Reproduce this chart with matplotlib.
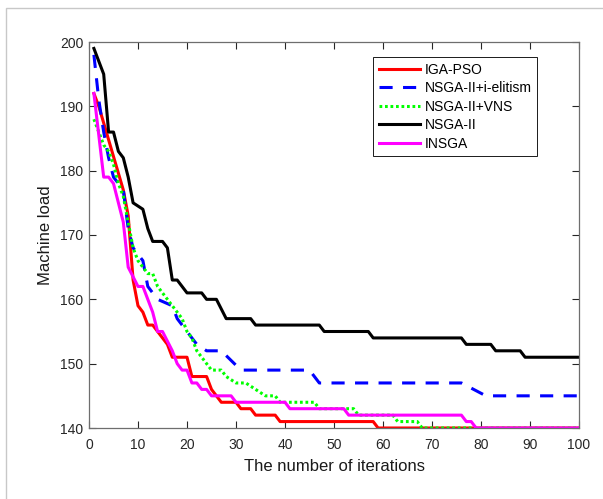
import matplotlib
matplotlib.use("Agg")
import matplotlib.pyplot as plt
from matplotlib.patches import Rectangle

plt.rcParams['font.family'] = ['Liberation Sans', 'DejaVu Sans']

# ---- data (iteration breakpoints and values, linear between) ----
iga_x = [1, 2, 7, 8, 9, 10, 11, 12, 13, 14, 16, 17, 20, 21, 24, 25, 27, 30, 31, 33, 34, 38, 39, 58, 59, 100]
iga_y = [192, 190, 177, 173, 163, 159, 158, 156, 156, 155, 153, 151, 151, 148, 148, 146, 144, 144, 143, 143, 142, 142, 141, 141, 140, 140]

eli_x = [1, 2, 3, 4, 5, 7, 8, 9, 10, 11, 12, 13, 14, 17, 18, 19, 20, 21, 22, 24, 27, 31, 45, 47, 76, 81, 100]
eli_y = [198, 191, 186, 182, 179, 177, 171, 168, 167, 166, 162, 161, 160, 159, 157, 156, 155, 154, 153, 152, 152, 149, 149, 147, 147, 145, 145]

vns_x = [1, 2, 3, 4, 5, 6, 7, 8, 9, 10, 11, 12, 13, 14, 15, 16, 17, 18, 19, 20, 21, 22, 23, 24, 25, 27, 28, 30, 32, 34, 36, 38, 39, 46, 47, 54, 55, 62, 63, 67, 68, 100]
vns_y = [188, 186, 184, 183, 181, 178, 176, 172, 168, 166, 165, 164, 164, 162, 161, 160, 159, 158, 157, 155, 154, 152, 151, 150, 149, 149, 148, 147, 147, 146, 145, 145, 144, 144, 143, 143, 142, 142, 141, 141, 140, 140]

nsga_x = [1, 3, 4, 5, 6, 7, 8, 9, 11, 12, 13, 15, 16, 17, 18, 20, 23, 24, 26, 28, 33, 34, 47, 48, 57, 58, 76, 77, 82, 83, 88, 89, 100]
nsga_y = [199, 195, 186, 186, 183, 182, 179, 175, 174, 171, 169, 169, 168, 163, 163, 161, 161, 160, 160, 157, 157, 156, 156, 155, 155, 154, 154, 153, 153, 152, 152, 151, 151]

insga_x = [1, 3, 4, 5, 6, 7, 8, 10, 11, 13, 14, 15, 17, 18, 19, 20, 21, 22, 23, 24, 25, 29, 30, 40, 41, 52, 53, 76, 77, 78, 79, 100]
insga_y = [192, 179, 179, 178, 175, 172, 165, 162, 162, 158, 155, 155, 152, 150, 149, 149, 147, 147, 146, 146, 145, 145, 144, 144, 143, 143, 142, 142, 141, 141, 140, 140]

labels = ['IGA-PSO', 'NSGA-II+i-elitism', 'NSGA-II+VNS', 'NSGA-II', 'INSGA']
x_ticks = list(range(0, 101, 10))
y_ticks = list(range(140, 201, 10))

fig = plt.figure(figsize=(6.03, 4.99), dpi=100)
ax = fig.add_axes([89/603, 1 - 428/499, 490/603, 386/499])

lw = 2.2
ax.plot(iga_x, iga_y, color=(1, 0, 0), lw=lw, label=labels[0])
ax.plot(eli_x, eli_y, color=(0, 0, 1), lw=lw, ls=(0, (4.3, 3.4)), label=labels[1])
ax.plot(vns_x, vns_y, color=(0, 1, 0), lw=lw, ls=(0, (0.9, 0.9)), label=labels[2])
ax.plot(nsga_x, nsga_y, color='black', lw=lw, label=labels[3])
ax.plot(insga_x, insga_y, color=(1, 0, 1), lw=lw, label=labels[4])

ax.set_xlim(0, 100)
ax.set_ylim(140, 200)
ax.set_xticks(x_ticks)
ax.set_yticks(y_ticks)
ax.tick_params(direction='in', length=5, width=0.8, top=True, right=True,
               labelsize=10, colors='#262626')
ax.tick_params(axis='x', pad=7.5)
ax.tick_params(axis='y', pad=4)
for s in ax.spines.values():
    s.set_color('#6e6e6e')
    s.set_linewidth(0.9)

ax.set_xlabel('The number of iterations', fontsize=12, color='#1a1a1a', labelpad=5)
ax.set_ylabel('Machine load', fontsize=12, color='#1a1a1a', labelpad=5)

leg = ax.legend(loc='upper right', bbox_to_anchor=((537 - 89) / 490, 1 - (57 - 42) / 386),
                borderaxespad=0, fancybox=False, framealpha=1, edgecolor='#1a1a1a',
                fontsize=10, handlelength=2.95, handletextpad=0.35, labelspacing=0.33,
                borderpad=0.4)
leg.get_frame().set_linewidth(0.7)

fig.patches.append(Rectangle((6 / 603, -0.1), 1.2, 1.1 - 8 / 499,
                             transform=fig.transFigure, fill=False,
                             edgecolor='#c8c8c8', lw=1.0))

fig.savefig('out.png', dpi=100)
